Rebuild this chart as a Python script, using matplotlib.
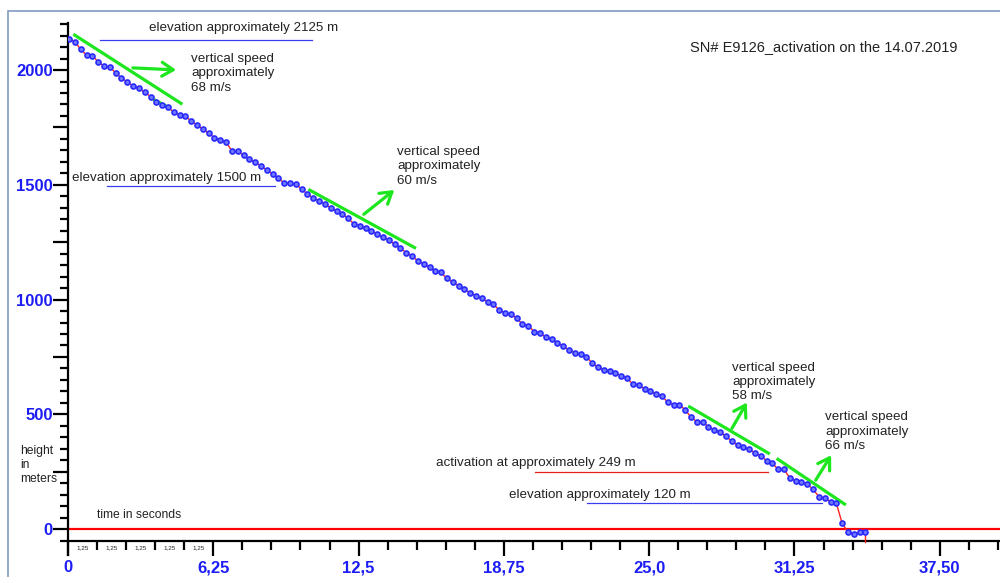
import matplotlib
matplotlib.use('Agg')
import matplotlib.pyplot as plt
from matplotlib.patches import Rectangle
from matplotlib.ticker import FixedLocator, MultipleLocator

plt.rcParams['font.family'] = ['Liberation Sans', 'DejaVu Sans']

# time in seconds (4 samples per second)
times = [0.05, 0.3, 0.55, 0.8, 1.05, 1.3, 1.55, 1.8,
         2.05, 2.3, 2.55, 2.8, 3.05, 3.3, 3.55, 3.8,
         4.05, 4.3, 4.55, 4.8, 5.05, 5.3, 5.55, 5.8,
         6.05, 6.3, 6.55, 6.8, 7.05, 7.3, 7.55, 7.8,
         8.05, 8.3, 8.55, 8.8, 9.05, 9.3, 9.55, 9.8,
         10.05, 10.3, 10.55, 10.8, 11.05, 11.3, 11.55, 11.8,
         12.05, 12.3, 12.55, 12.8, 13.05, 13.3, 13.55, 13.8,
         14.05, 14.3, 14.55, 14.8, 15.05, 15.3, 15.55, 15.8,
         16.05, 16.3, 16.55, 16.8, 17.05, 17.3, 17.55, 17.8,
         18.05, 18.3, 18.55, 18.8, 19.05, 19.3, 19.55, 19.8,
         20.05, 20.3, 20.55, 20.8, 21.05, 21.3, 21.55, 21.8,
         22.05, 22.3, 22.55, 22.8, 23.05, 23.3, 23.55, 23.8,
         24.05, 24.3, 24.55, 24.8, 25.05, 25.3, 25.55, 25.8,
         26.05, 26.3, 26.55, 26.8, 27.05, 27.3, 27.55, 27.8,
         28.05, 28.3, 28.55, 28.8, 29.05, 29.3, 29.55, 29.8,
         30.05, 30.3, 30.55, 30.8, 31.05, 31.3, 31.55, 31.8,
         32.05, 32.3, 32.55, 32.8, 33.05, 33.3, 33.55, 33.8,
         34.05, 34.3]

# height in meters
heights = [2135, 2123, 2090, 2065, 2062, 2036, 2017, 2013, 1988, 1965,
           1949, 1930, 1920, 1904, 1884, 1862, 1849, 1837, 1817, 1804,
           1798, 1778, 1760, 1743, 1724, 1706, 1695, 1685, 1648, 1648,
           1628, 1611, 1598, 1583, 1564, 1547, 1528, 1508, 1506, 1503,
           1481, 1460, 1441, 1431, 1416, 1400, 1386, 1372, 1354, 1329,
           1322, 1310, 1300, 1284, 1271, 1259, 1242, 1223, 1204, 1190,
           1168, 1155, 1140, 1125, 1118, 1092, 1075, 1060, 1044, 1030,
           1017, 1005, 990, 979, 954, 942, 936, 918, 893, 886,
           860, 855, 835, 828, 812, 797, 780, 768, 761, 751,
           722, 705, 693, 688, 681, 668, 657, 631, 627, 610,
           603, 587, 580, 552, 541, 541, 519, 487, 468, 465,
           446, 431, 421, 405, 383, 366, 357, 349, 330, 319,
           298, 286, 260, 260, 222, 210, 207, 196, 173, 141,
           134, 119, 113, 25, -14, -22, -14, -14]

# last line segment after the final sample (no marker)
tail_t = [34.3, 34.3]
tail_h = [-14, -57]

# tick labels
x_ticks = [0, 6.25, 12.5, 18.75, 25.0, 31.25, 37.5]
x_labels = ['0', '6,25', '12,5', '18,75', '25,0', '31,25', '37,50']
y_ticks = [0, 250, 500, 750, 1000, 1250, 1500, 1750, 2000]
y_labels = ['0', '', '500', '', '1000', '', '1500', '', '2000']
small_ticks = [0.625, 1.875, 3.125, 4.375, 5.625]

# speed lines (t0, h0, t1, h1), arrows (start t, h, tip t, h) and texts
speed_lines = [(0.23, 2156, 4.92, 1851), (10.34, 1480, 14.97, 1223),
               (26.68, 536, 30.19, 327), (30.48, 308, 33.46, 105)]
speed_arrows = [(2.67, 2010, 4.77, 2000), (12.63, 1364, 14.13, 1485),
                (28.5, 428, 29.26, 562), (32.1, 203, 32.89, 332)]
speed_values = ['68 m/s', '60 m/s', '58 m/s', '66 m/s']
speed_text_pos = [(5.29, 2075), (14.15, 1670), (28.56, 730), (32.56, 514)]

# reference levels (label, t from, t to, height, colour)
levels = [('elevation approximately 2125 m', 1.38, 10.49, 2133, '#3b3bf0'),
          ('elevation approximately 1500 m', 1.68, 8.9, 1495, '#3b3bf0'),
          ('activation at approximately 249 m', 20.09, 30.11, 250, '#e82020'),
          ('elevation approximately 120 m', 22.32, 32.43, 115, '#3b3bf0')]
level_text_pos = [(3.48, 2183), (0.17, 1529), (15.83, 288), (18.97, 148)]

fig = plt.figure(figsize=(10, 5.77), dpi=100)
ax = fig.add_axes([0.068, 22 / 577, 0.932, 532 / 577])
ax.set_xlim(0, 40.09)
ax.set_ylim(-113, 2205)

green = '#1ee61e'
txt = '#222222'

# zero line
ax.axhline(0, color='#ff0000', lw=1.6, zorder=2)

for (lab, t0, t1, h, c), (tx, ty) in zip(levels, level_text_pos):
    ax.plot([t0, t1], [h, h], color=c, lw=0.9, zorder=2)
    ax.text(tx, ty, lab, fontsize=9.6, color=txt, va='center', ha='left')

for t0, h0, t1, h1 in speed_lines:
    ax.plot([t0, t1], [h0, h1], color=green, lw=2.3, solid_capstyle='butt', zorder=2)
ax.plot([3.74, 4.3], [1869, 1839], color=green, lw=2.3, zorder=4)

for (t0, h0, t1, h1), v, (tx, ty) in zip(speed_arrows, speed_values, speed_text_pos):
    ax.annotate('', xy=(t1, h1), xytext=(t0, h0),
                arrowprops=dict(arrowstyle='->,head_length=0.8,head_width=0.5',
                                color=green, lw=2.3))
    ax.text(tx, ty, 'vertical speed\napproximately\n' + v, fontsize=9.6,
            color=txt, va='top', ha='left', linespacing=1.27)

# the measured curve
ax.plot(times, heights, color='#ff2020', lw=1.0, zorder=3)
ax.plot(tail_t, tail_h, color='#ff2020', lw=1.0, zorder=3)
ax.plot(times, heights, ls='none', marker='o', ms=3.6, mfc='#7078ff',
        mec='#2a2aff', mew=1.2, zorder=4)

ax.text(26.75, 2100, 'SN# E9126_activation on the 14.07.2019', fontsize=10.5,
        color=txt, va='center', ha='left')
ax.text(1.25, 33, 'time in seconds', fontsize=8.7, color=txt, va='bottom')
ax.text(-2.06, 279, 'height\nin\nmeters', fontsize=8.7, color=txt,
        va='center', ha='left', linespacing=1.2, clip_on=False)
for s in small_ticks:
    ax.text(s, -83, '1,25', fontsize=4.5, color=txt, ha='center', va='center')

# axes styling
for side in ['top', 'right']:
    ax.spines[side].set_visible(False)
ax.spines['bottom'].set_position(('data', -52))
ax.spines['bottom'].set_linewidth(1.6)
ax.spines['left'].set_linewidth(1.6)

ax.xaxis.set_major_locator(FixedLocator(x_ticks))
ax.set_xticklabels(x_labels)
ax.xaxis.set_minor_locator(MultipleLocator(1.25))
ax.yaxis.set_major_locator(FixedLocator(y_ticks))
ax.set_yticklabels(y_labels)
ax.yaxis.set_minor_locator(FixedLocator(list(range(-50, 2201, 50))))

ax.tick_params(axis='x', which='major', length=10.5, width=1.6, pad=3.5,
               labelsize=12, labelcolor='#1c1cf5')
ax.tick_params(axis='x', which='minor', length=6.5, width=1.6)
ax.tick_params(axis='y', which='major', length=11, width=1.6, pad=0,
               labelsize=12, labelcolor='#1c1cf5')
ax.tick_params(axis='y', which='minor', length=6, width=1.6)
for lab in ax.get_xticklabels() + ax.get_yticklabels():
    lab.set_fontweight('bold')

# outer frame (left and top edges visible)
fig.patches.append(Rectangle((0.008, -0.1), 1.5, 1.1 - 11 / 577, transform=fig.transFigure,
                             fill=False, edgecolor='#7f9cbc', lw=1.2))

fig.savefig('out.png', dpi=100)
